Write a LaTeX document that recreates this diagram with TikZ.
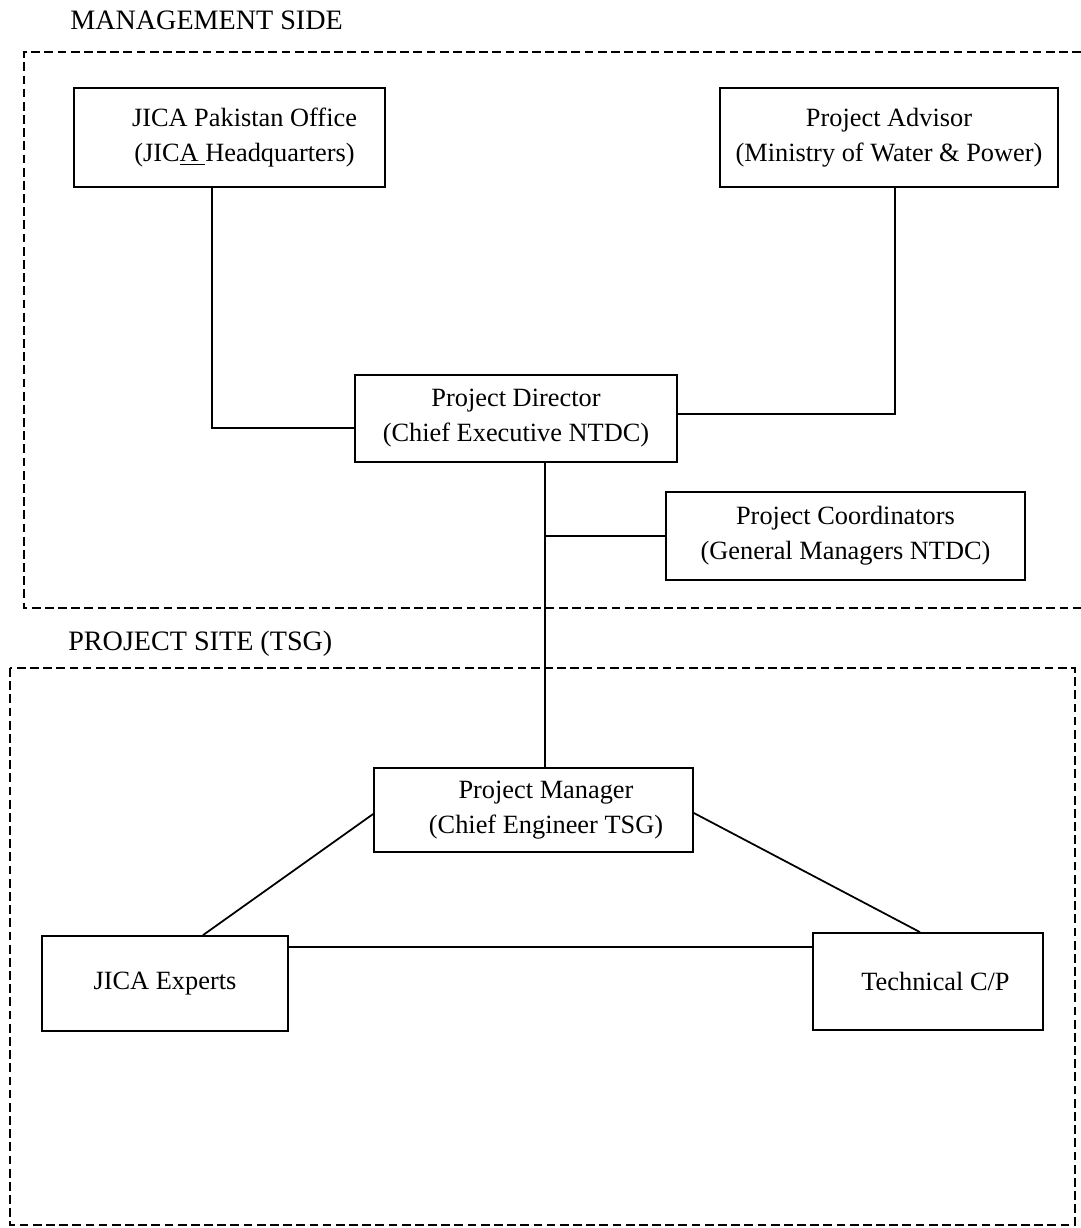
\documentclass[tikz,border=0pt]{standalone}
\usepackage{fontspec}
\setmainfont{Liberation Serif}
\usetikzlibrary{calc}
\tikzset{
  bx/.style={draw,line width=1pt,align=center,inner sep=0pt,font=\fontsize{15}{20}\selectfont},
  grp/.style={line width=1pt,dash pattern=on 5pt off 2.5pt},
  ttl/.style={anchor=base west,inner sep=0pt,font=\fontsize{16}{20}\selectfont},
  cn/.style={line width=1pt},
}

\begin{document}
\begin{tikzpicture}[x=0.02cm,y=-0.02cm]
\useasboundingbox (0,0) rectangle (1081,1228);
% dashed groups
\draw[grp] (1081,52)--(24,52)--(24,608)--(1081,608);
\draw[grp] (10,668) rectangle (1075,1225);
\node[ttl] (mside) at (70,29) {MANAGEMENT SIDE};
\node[ttl] (pside) at (68,650) {PROJECT SITE (TSG)};
% boxes
\node[bx,minimum width=6.22cm,minimum height=1.98cm] (jpo) at (229.5,137.5) {\hspace*{0.6cm}JICA Pakistan Office\\\hspace*{0.6cm}(JIC\underline{A }Headquarters)};
\node[bx,minimum width=6.76cm,minimum height=1.98cm] (adv) at (889,137.5) {Project Advisor\\(Ministry of Water \& Power)};
\node[bx,minimum width=6.44cm,minimum height=1.74cm] (dir) at (516,418.5) {Project Director\\(Chief Executive NTDC)};
\node[bx,minimum width=7.18cm,minimum height=1.76cm] (coord) at (845.5,536) {Project Coordinators\\(General Managers NTDC)};
\node[bx,minimum width=6.38cm,minimum height=1.68cm] (mgr) at (533.5,810) {\hspace*{0.5cm}Project Manager\\\hspace*{0.5cm}(Chief Engineer TSG)};
\node[bx,minimum width=4.92cm,minimum height=1.9cm] (jexp) at (165,983.5) {JICA Experts};
\node[bx,minimum width=4.6cm,minimum height=1.94cm] (tcp) at (928,981.5) {\hspace*{0.3cm}Technical C/P};
% connectors
\draw[cn] ([xshift=-0.35cm]jpo.south) |- ([yshift=-0.19cm]dir.west);
\draw[cn] ([xshift=0.12cm]adv.south) |- ([yshift=0.09cm]dir.east);
\coordinate (dtop) at ([xshift=0.58cm]dir.south);
\draw[cn] (dtop) -- (dtop |- mgr.north);
\draw[cn] (coord.west) -- (coord.west -| dtop);
\draw[cn] ([yshift=-0.08cm]mgr.west) -- ([xshift=0.76cm]jexp.north);
\draw[cn] ([yshift=-0.06cm]mgr.east) -- ([xshift=-0.16cm]tcp.north);
\coordinate (eright) at ([yshift=0.73cm]jexp.east);
\draw[cn] (eright) -- (eright -| tcp.west);
\end{tikzpicture}
\end{document}
